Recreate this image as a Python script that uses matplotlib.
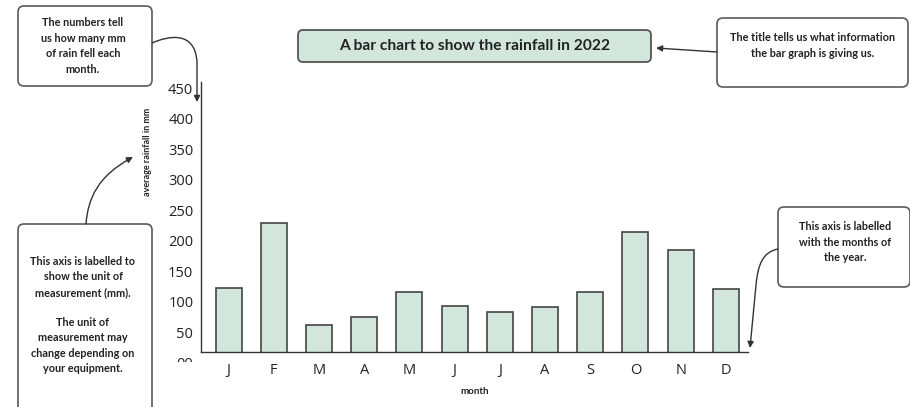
import matplotlib
matplotlib.use("Agg")
import matplotlib.pyplot as plt
from matplotlib.patches import FancyBboxPatch, FancyArrowPatch, Rectangle
from matplotlib.path import Path

# ---- data ----
months = ["J", "F", "M", "A", "M", "J", "J", "A", "S", "O", "N", "D"]
rainfall = [123, 230, 63, 75, 117, 94, 83, 92, 117, 214, 186, 121]
y_ticks = [50, 100, 150, 200, 250, 300, 350, 400, 450]
title_text = "A bar chart to show the rainfall in 2022"
x_label = "month"
y_label = "average rainfall in mm"
note_numbers = "The numbers tell\nus how many mm\nof rain fell each\nmonth."
note_title = "The title tells us what information\nthe bar graph is giving us."
note_yaxis_a = "This axis is labelled to\nshow the unit of\nmeasurement (mm)."
note_yaxis_b = "The unit of\nmeasurement may\nchange depending on\nyour equipment."
note_xaxis = "This axis is labelled\nwith the months of\nthe year."

W, H = 910, 407
BAR = "#d2e6dc"
EDGE = "#444444"

fig = plt.figure(figsize=(W / 100, H / 100), dpi=100)
fig.patch.set_facecolor("white")

# main axes in pixel layout
L, R, T, B = 201, 748, 82, 352
ax = fig.add_axes([L / W, 1 - B / H, (R - L) / W, (B - T) / H])
x = list(range(len(months)))
ax.bar(x, rainfall, width=0.575, color=BAR, edgecolor=EDGE, linewidth=1.2, zorder=2)
ax.set_xlim(-0.61, 11.49)
ax.set_ylim(18, 460.6)
ax.set_xticks(x)
ax.set_xticklabels(months, fontfamily="Open Sans", fontsize=10.5, color="#222222")
ax.set_yticks(y_ticks)
ax.set_yticklabels([str(v) for v in y_ticks], fontfamily="Open Sans", fontsize=10.5, color="#222222")
ax.tick_params(axis="both", length=0)
ax.tick_params(axis="y", pad=5.5)
ax.tick_params(axis="x", pad=8)
for s in ["top", "right"]:
    ax.spines[s].set_visible(False)
for s in ["left", "bottom"]:
    ax.spines[s].set_color("#333333")
    ax.spines[s].set_linewidth(1.0)
ax.set_facecolor("none")

# overlay axes in pixel coordinates
ov = fig.add_axes([0, 0, 1, 1])
ov.set_xlim(0, W)
ov.set_ylim(H, 0)
ov.axis("off")
ov.patch.set_alpha(0)

ann_font = dict(fontfamily="Lato", fontweight="bold", color="#222222")

# clipped "00" label below the axis
zero = ov.text(193, 365, "00", ha="right", va="center", fontfamily="Open Sans",
               fontsize=10.5, color="#222222")
clip = Rectangle((150, 330), 60, 31.5, transform=ov.transData)
zero.set_clip_path(clip)
zero.set_clip_on(True)

# axis labels
ov.text((L + R) / 2, 391, x_label, ha="center", va="center", fontsize=7, **ann_font)
ov.text(148, 152, y_label, ha="center", va="center", rotation=90, fontsize=6.5, **ann_font)

def rbox(x0, y0, x1, y1, fc="white", ec="#5a5a5a", lw=1.2, r=6):
    p = FancyBboxPatch((x0, y0), x1 - x0, y1 - y0,
                       boxstyle=f"round,pad=0,rounding_size={r}",
                       fc=fc, ec=ec, lw=lw, transform=ov.transData, clip_on=False)
    ov.add_patch(p)

# title box
rbox(298, 30, 651, 62, fc=BAR, ec="#555555", lw=1.3, r=5)
ov.text(474.5, 46.5, title_text, ha="center", va="center", fontsize=11.2, **ann_font)

# annotation boxes
rbox(18, 6, 152, 86)
ov.text(83, 46, note_numbers, ha="center", va="center", fontsize=7.8, linespacing=1.55, **ann_font)

rbox(717, 18, 908, 87)
ov.text(813, 45.5, note_title, ha="center", va="center", fontsize=7.9, linespacing=1.45, **ann_font)

rbox(18, 224, 152, 420)
ov.text(83, 277, note_yaxis_a, ha="center", va="center", fontsize=7.8, linespacing=1.5, **ann_font)
ov.text(83, 345.5, note_yaxis_b, ha="center", va="center", fontsize=7.8, linespacing=1.5, **ann_font)

rbox(778, 207, 910, 287)
ov.text(845, 242, note_xaxis, ha="center", va="center", fontsize=7.8, linespacing=1.55, **ann_font)

def arrow(verts, codes):
    p = FancyArrowPatch(path=Path(verts, codes), arrowstyle="-|>", mutation_scale=9,
                        color="#333333", lw=1.0, transform=ov.transData)
    ov.add_patch(p)

M, C, Ln = Path.MOVETO, Path.CURVE4, Path.LINETO
# title arrow
arrow([(717, 52), (656, 48)], [M, Ln])
# numbers arrow
arrow([(152, 43), (168, 36), (195, 30), (197, 62), (197, 102)], [M, C, C, C, Ln])
# y-axis arrow
arrow([(86, 224), (88, 198), (98, 176), (133, 157)], [M, C, C, C])
# x-axis arrow
arrow([(778, 249), (763, 252), (758, 264), (756, 285), (750, 348)], [M, C, C, C, Ln])

fig.savefig("out.png", dpi=100)
